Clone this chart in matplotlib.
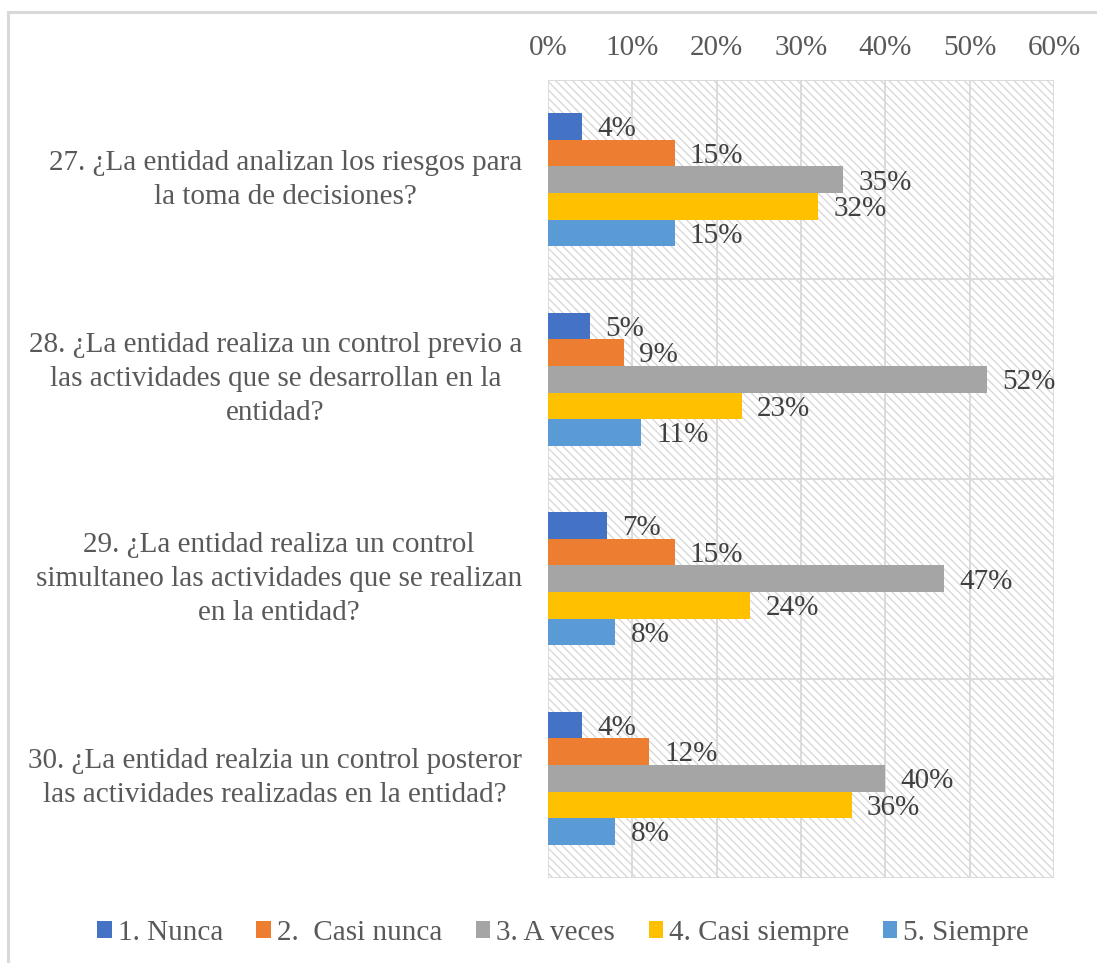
import matplotlib
matplotlib.use("Agg")
import matplotlib.pyplot as plt
from matplotlib.patches import Rectangle
import numpy as np

plt.rcParams['font.family'] = ['Liberation Serif', 'DejaVu Serif']
plt.rcParams['hatch.linewidth'] = 0.9

questions = [
    "27. ¿La entidad analizan los riesgos para\nla toma de decisiones?",
    "28. ¿La entidad realiza un control previo a\nlas actividades que se desarrollan en la\nentidad?",
    "29. ¿La entidad realiza un control\nsimultaneo las actividades que se realizan\nen la entidad?",
    "30. ¿La entidad realzia un control posteror\nlas actividades realizadas en la entidad?",
]
series_names = ["1. Nunca", "2.  Casi nunca", "3. A veces", "4. Casi siempre", "5. Siempre"]
series_colors = ["#4472C4", "#ED7D31", "#A5A5A5", "#FFC000", "#5B9BD5"]

nunca = [4, 5, 7, 4]
casi_nunca = [15, 9, 15, 12]
a_veces = [35, 52, 47, 40]
casi_siempre = [32, 23, 24, 36]
siempre = [15, 11, 8, 8]
series_values = [nunca, casi_nunca, a_veces, casi_siempre, siempre]

x_ticks = [0, 10, 20, 30, 40, 50, 60]

W, H = 1097, 963
fig = plt.figure(figsize=(W / 100, H / 100), dpi=100)

# outer chart border
fig.patches.append(Rectangle((8 / W, -0.05), 1.2, 1 - 12 / H + 0.05,
                             transform=fig.transFigure, fill=False,
                             edgecolor="#D9D9D9", linewidth=2.2, zorder=0))

ax = fig.add_axes([548 / W, 1 - 878 / H, (1054 - 548) / W, (878 - 80) / H])
ax.set_facecolor("white")

# hatched plot-area fill
ax.add_patch(Rectangle((0, 0), 1, 1, transform=ax.transAxes, facecolor="white",
                       edgecolor="#D6D6D6", linewidth=0, hatch="\\\\\\\\", zorder=0))

text_color = "#595959"
fs = 21

n_series = len(series_values)
bar_h = (2 / 3) / n_series
y = np.arange(len(questions))
for i, (vals, name, col) in enumerate(zip(series_values, series_names, series_colors)):
    pos = y + (i - (n_series - 1) / 2) * bar_h
    ax.barh(pos, vals, height=bar_h, color=col, label=name, zorder=3)
    for p, v in zip(pos, vals):
        ax.annotate(f"{v}%", (v, p), xytext=(11, -2), textcoords="offset points",
                    va="center", ha="left", fontsize=fs, color="#404040", zorder=4)

ax.set_xlim(0, 60)
ax.set_ylim(len(questions) - 0.5, -0.5)
ax.xaxis.tick_top()
ax.set_xticks(x_ticks)
ax.set_xticklabels([f"{t}%" for t in x_ticks], fontsize=fs, color=text_color)
ax.tick_params(axis="x", length=0, pad=14)
ax.set_yticks([])

grid_c = "#D9D9D9"
for t in x_ticks:
    ax.axvline(t, color=grid_c, linewidth=1.3, zorder=1)
for b in np.arange(len(questions) + 1) - 0.5:
    ax.axhline(b, color=grid_c, linewidth=1.3, zorder=1)
for s in ax.spines.values():
    s.set_visible(False)

# category labels
for yi, q in zip(y, questions):
    ax.text(-26 / (1054 - 548), yi, q, transform=ax.get_yaxis_transform(),
            ha="right", va="center", multialignment="center",
            fontsize=fs, color=text_color, linespacing=1.4)

handles, labels = ax.get_legend_handles_labels()
fig.legend(handles, labels, loc="center", bbox_to_anchor=(563 / W, 1 - 933 / H),
           ncol=5, frameon=False, fontsize=fs, labelcolor=text_color,
           handlelength=0.5, handleheight=0.5, handletextpad=0.2,
           columnspacing=1.15)

fig.savefig("out.png", dpi=100)
